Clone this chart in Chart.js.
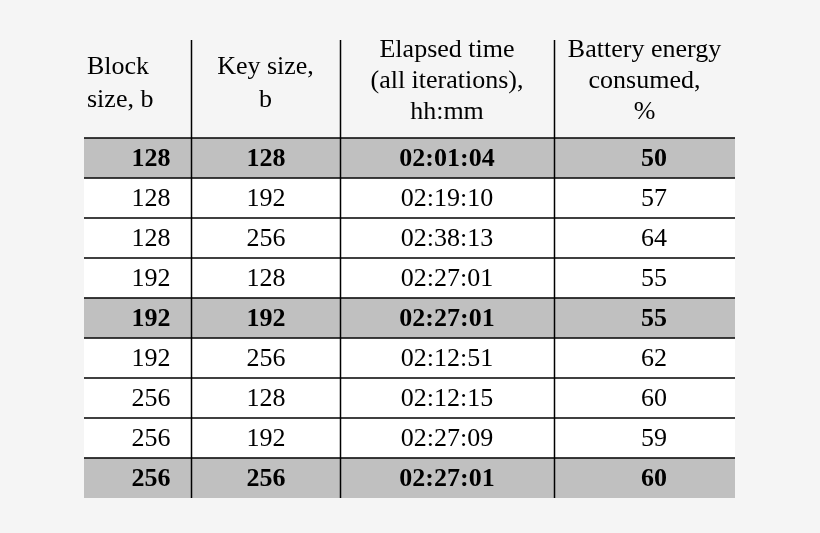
<!DOCTYPE html>
<html><head><meta charset="utf-8">
<script src="https://cdn.jsdelivr.net/npm/chart.js@4"></script>
<style>html,body{margin:0;padding:0;background:#f5f5f5}#w{width:820px;height:533px}</style>
</head><body><div id="w"><canvas id="c"></canvas></div>
<script>
const blockSizes = ["128","128","128","192","192","192","256","256","256"];
const keySizes = ["128","192","256","128","192","256","128","192","256"];
const elapsed = ["02:01:04","02:19:10","02:38:13","02:27:01","02:27:01","02:12:51","02:12:15","02:27:09","02:27:01"];
const battery = ["50","57","64","55","55","62","60","59","60"];
const highlighted = [true,false,false,false,true,false,false,false,true];
const headers = [["Block","size, b"],["Key size,","b"],["Elapsed time","(all iterations),","hh:mm"],["Battery energy","consumed,","%"]];

const rowLabels = blockSizes.map((_, i) => "r" + i);
const colEdges = [0, 107, 256, 470, 651];
const colText = [67, 182, 363, 570];
const cols = [blockSizes, keySizes, elapsed, battery];
const FONT = "'Liberation Serif', 'Times New Roman', serif";

const tablePlugin = {
  id: 'table',
  afterDatasetsDraw(chart) {
    const ctx = chart.ctx, x = chart.scales.x, y = chart.scales.y, ca = chart.chartArea;
    ctx.save();
    ctx.strokeStyle = '#000'; ctx.lineWidth = 1.5;
    const half = (y.getPixelForValue(1) - y.getPixelForValue(0)) / 2;
    for (let i = 0; i < rowLabels.length; i++) {
      const yy = y.getPixelForValue(i) - half;
      ctx.beginPath(); ctx.moveTo(ca.left, yy); ctx.lineTo(ca.right, yy); ctx.stroke();
    }
    for (let k = 1; k < colEdges.length - 1; k++) {
      const xx = Math.round(x.getPixelForValue(colEdges[k])) + 0.5;
      ctx.beginPath(); ctx.moveTo(xx, 40); ctx.lineTo(xx, ca.bottom); ctx.stroke();
    }
    ctx.fillStyle = '#000'; ctx.textBaseline = 'middle';
    for (let i = 0; i < rowLabels.length; i++) {
      ctx.font = (highlighted[i] ? 'bold ' : '') + '26px ' + FONT;
      ctx.textAlign = 'center';
      cols.forEach((c, k) => ctx.fillText(c[i], x.getPixelForValue(colText[k]), y.getPixelForValue(i) + 1));
    }
    ctx.font = '26px ' + FONT;
    headers.forEach((h, k) => {
      const ys = h.length === 2 ? [67, 100] : [50, 81, 112];
      if (k === 0) { ctx.textAlign = 'left'; h.forEach((t, j) => ctx.fillText(t, x.getPixelForValue(colEdges[0]) + 3, ys[j])); }
      else {
        ctx.textAlign = 'center';
        const cx = (x.getPixelForValue(colEdges[k]) + x.getPixelForValue(colEdges[k + 1])) / 2;
        h.forEach((t, j) => ctx.fillText(t, cx, ys[j]));
      }
    });
    ctx.restore();
  }
};

new Chart(document.getElementById('c'), {
  type: 'bar',
  data: {
    labels: rowLabels,
    datasets: [{
      data: rowLabels.map(() => [colEdges[0], colEdges[colEdges.length - 1]]),
      backgroundColor: highlighted.map(h => h ? '#c0c0c0' : '#ffffff'),
      borderWidth: 0, barPercentage: 1, categoryPercentage: 1
    }]
  },
  options: {
    indexAxis: 'y', responsive: true, maintainAspectRatio: false, animation: false,
    layout: { padding: { left: 84, right: 85, top: 138, bottom: 35 } },
    plugins: { legend: { display: false }, tooltip: { enabled: false } },
    scales: {
      x: { type: 'linear', min: 0, max: 651, display: false },
      y: { type: 'category', display: false }
    }
  },
  plugins: [tablePlugin]
});
</script></body></html>
